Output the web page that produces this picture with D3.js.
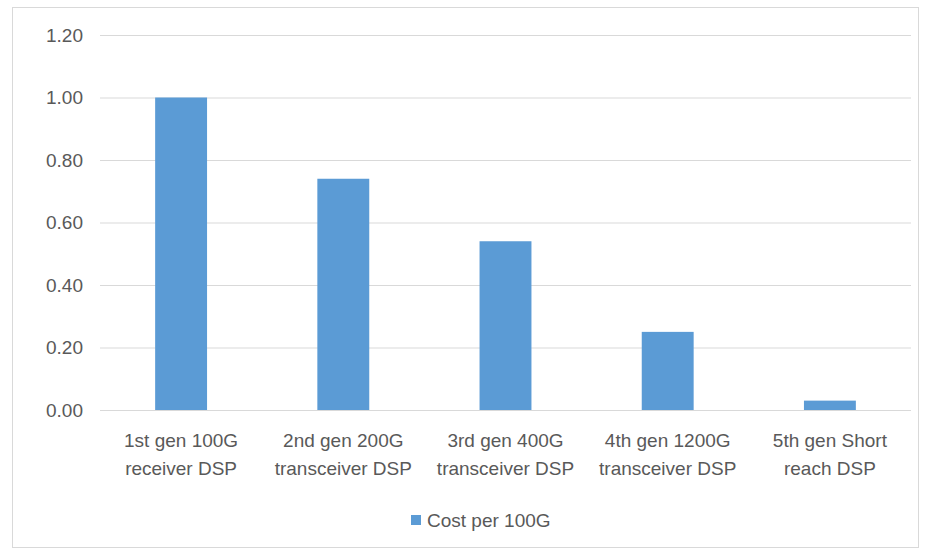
<!DOCTYPE html>
<html><head><meta charset="utf-8">
<script src="https://cdn.jsdelivr.net/npm/d3@7"></script>
<style>body{margin:0;background:#fff;}</style>
</head><body>
<svg id="c" width="927" height="552"></svg>
<script>
const categories = [["1st gen 100G","receiver DSP"],["2nd gen 200G","transceiver DSP"],["3rd gen 400G","transceiver DSP"],["4th gen 1200G","transceiver DSP"],["5th gen Short","reach DSP"]];
const values = [1.00, 0.74, 0.54, 0.25, 0.03];
const yTicks = [0, 0.2, 0.4, 0.6, 0.8, 1.0, 1.2];
const seriesName = "Cost per 100G";

const svg = d3.select("#c");
const font = "'Liberation Sans', Arial, sans-serif";
svg.append("rect").attr("x",12.5).attr("y",7.5).attr("width",906).attr("height",540)
  .attr("fill","#fff").attr("stroke","#d9d9d9");

const x = d3.scaleBand().domain(d3.range(categories.length)).range([100,911]).paddingInner(0.68).paddingOuter(0.34);
const y = d3.scaleLinear().domain([0,1.2]).range([410,35]);

const g = svg.append("g");
g.selectAll("line.grid").data(yTicks).join("line")
  .attr("x1",100).attr("x2",911).attr("y1",d=>y(d)+0.5).attr("y2",d=>y(d)+0.5)
  .attr("stroke","#d9d9d9").attr("stroke-width",1);

const yAxis = d3.axisLeft(y).tickValues(yTicks).tickFormat(d3.format(".2f")).tickSize(0).tickPadding(17);
const ya = svg.append("g").attr("transform","translate(100,0)").call(yAxis);
ya.select(".domain").remove();
ya.selectAll("text").attr("fill","#595959").style("font-family",font).style("font-size","19px");

g.selectAll("rect.bar").data(values).join("rect")
  .attr("x",(d,i)=>x(i)).attr("width",x.bandwidth())
  .attr("y",d=>y(d)).attr("height",d=>y(0)-y(d)).attr("fill","#5b9bd5");

const lab = svg.append("g");
categories.forEach((c,i)=>{
  const cx = x(i)+x.bandwidth()/2;
  const t = lab.append("text").attr("text-anchor","middle").attr("fill","#595959")
    .style("font-family",font).style("font-size","19px");
  c.forEach((line,j)=>t.append("tspan").attr("x",cx).attr("y",447+j*28).text(line));
});

const lg = svg.append("g");
lg.append("rect").attr("x",411).attr("y",515).attr("width",10).attr("height",10).attr("fill","#5b9bd5");
lg.append("text").attr("x",427).attr("y",527).attr("fill","#595959")
  .style("font-family",font).style("font-size","19px").text(seriesName);
</script>
</body></html>
